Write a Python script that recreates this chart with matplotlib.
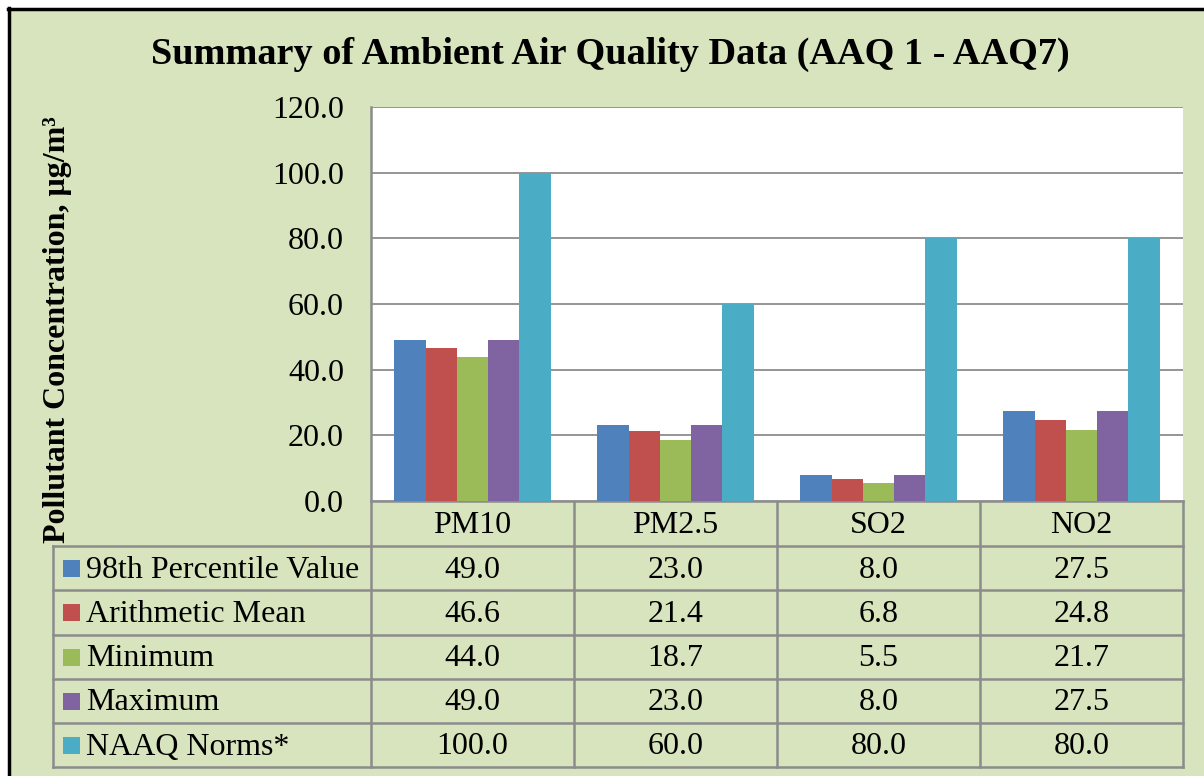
import numpy as np
import matplotlib
matplotlib.use('Agg')
import matplotlib.pyplot as plt
from matplotlib.patches import Rectangle

# Data
pollutants = ['PM10', 'PM2.5', 'SO2', 'NO2']
series_names = ['98th Percentile Value', 'Arithmetic Mean', 'Minimum', 'Maximum', 'NAAQ Norms*']
p98 = [49.0, 23.0, 8.0, 27.5]
mean_vals = [46.6, 21.4, 6.8, 24.8]
min_vals = [44.0, 18.7, 5.5, 21.7]
max_vals = [49.0, 23.0, 8.0, 27.5]
naaq = [100.0, 60.0, 80.0, 80.0]
series_values = [p98, mean_vals, min_vals, max_vals, naaq]
colors = ['#4F81BD', '#C0504D', '#9BBB59', '#8064A2', '#4BACC6']
y_ticks = [0, 20, 40, 60, 80, 100, 120]

W, H = 1204, 776
BG = '#D7E4BD'
GRID = '#8C8C8C'
SERIF = 'Liberation Serif'
FS = 23

plt.rcParams['font.family'] = SERIF

fig = plt.figure(figsize=(W / 100, H / 100), dpi=100)
fig.patch.set_facecolor('white')

# Full-figure canvas in pixel units for background, border and data table
bg = fig.add_axes([0, 0, 1, 1])
bg.set_xlim(0, W)
bg.set_ylim(H, 0)
bg.axis('off')
bg.add_patch(Rectangle((8, 8), W, H, facecolor=BG, edgecolor='none'))
bg.plot([8.5, 8.5], [8, H], color='black', lw=2.5)
bg.plot([8, W], [8.5, 8.5], color='black', lw=2.5)

# Plot area geometry (pixels)
px0, px1, py_top, py_bot = 371, 1183, 107, 501

ax = fig.add_axes([px0 / W, 1 - py_bot / H, (px1 - px0) / W, (py_bot - py_top) / H])
ax.set_facecolor('white')
n_series = len(series_values)
bar_w = 1 / (n_series + 1.5)
x = np.arange(len(pollutants))
for i, (vals, c) in enumerate(zip(series_values, colors)):
    offs = (i - (n_series - 1) / 2) * bar_w
    ax.bar(x + offs, vals, width=bar_w, color=c, edgecolor='none', zorder=3)
ax.set_xlim(-0.5, len(pollutants) - 0.5)
ax.set_ylim(0, 120)
ax.set_yticks(y_ticks)
ax.set_yticklabels([f'{t:.1f}' for t in y_ticks], fontsize=FS)
ax.tick_params(axis='y', length=0, pad=19.5)
ax.set_xticks([])
ax.grid(axis='y', color=GRID, lw=1.3, zorder=0)
for s in ['top', 'right', 'bottom']:
    ax.spines[s].set_visible(False)
ax.spines['left'].set_color(GRID)
ax.spines['left'].set_linewidth(1.8)

# Title and y label
bg.text(610, 54, 'Summary of Ambient Air Quality Data (AAQ 1 - AAQ7)',
        ha='center', va='center', fontsize=27.5, fontweight='bold')
bg.text(58, 330, 'Pollutant Concentration, \u03bcg/m\u00b3', rotation=90,
        ha='center', va='center', fontsize=FS, fontweight='bold')

# Data table
tx0 = 53
col_edges = np.linspace(px0, px1, len(pollutants) + 1)
row_edges = [501, 546, 590, 635, 679, 723, 767]
lw = 1.8
bg.plot([px0, px1], [row_edges[0], row_edges[0]], color=GRID, lw=lw)
for ce in col_edges:
    bg.plot([ce, ce], [row_edges[0], row_edges[-1]], color=GRID, lw=lw)
for r in row_edges[1:]:
    bg.plot([tx0, px1], [r, r], color=GRID, lw=lw)
bg.plot([tx0, tx0], [row_edges[1], row_edges[-1]], color=GRID, lw=lw)

for j, name in enumerate(pollutants):
    cx = (col_edges[j] + col_edges[j + 1]) / 2
    bg.text(cx, (row_edges[0] + row_edges[1]) / 2 + 2, name,
            ha='center', va='center', fontsize=FS)
for i, (name, vals, c) in enumerate(zip(series_names, series_values, colors)):
    cy = (row_edges[i + 1] + row_edges[i + 2]) / 2
    bg.add_patch(Rectangle((63, cy - 8.5), 17, 17, facecolor=c, edgecolor='none'))
    bg.text(86, cy + 2, name, ha='left', va='center', fontsize=FS)
    for j, v in enumerate(vals):
        cx = (col_edges[j] + col_edges[j + 1]) / 2
        bg.text(cx, cy + 2, f'{v:.1f}', ha='center', va='center', fontsize=FS)

fig.savefig('out.png', dpi=100)
